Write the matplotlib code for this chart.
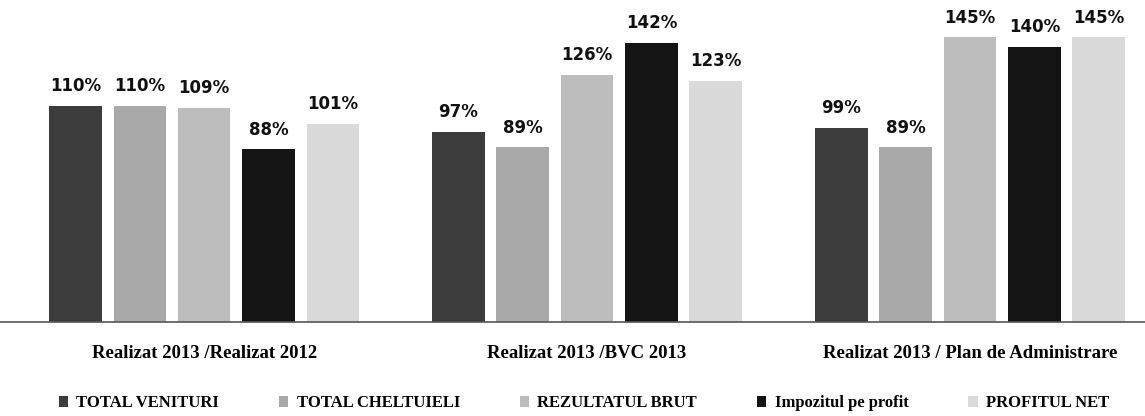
import matplotlib
matplotlib.use("Agg")
import matplotlib.pyplot as plt
import numpy as np

categories = ["Realizat 2013 /Realizat 2012", "Realizat 2013 /BVC 2013",
              "Realizat 2013 / Plan de Administrare"]
series = ["TOTAL VENITURI", "TOTAL CHELTUIELI", "REZULTATUL BRUT",
          "Impozitul pe profit", "PROFITUL NET"]
values = {
    "TOTAL VENITURI": [110, 97, 99],
    "TOTAL CHELTUIELI": [110, 89, 89],
    "REZULTATUL BRUT": [109, 126, 145],
    "Impozitul pe profit": [88, 142, 140],
    "PROFITUL NET": [101, 123, 145],
}
colors = ["#3c3c3c", "#a9a9a9", "#bdbdbd", "#141414", "#dadada"]

fig = plt.figure(figsize=(11.45, 4.16), dpi=100)
ax = fig.add_axes([0.0, 0.225, 1.0, 0.775])

x = np.arange(len(categories))
step = 0.168
width = 0.137
for i, name in enumerate(series):
    pos = x + (i - 2) * step
    bars = ax.bar(pos, values[name], width, color=colors[i], label=name)
    for b, v in zip(bars, values[name]):
        ax.text(b.get_x() + b.get_width() / 2, v + 5.5, f"{v}%", ha="center", va="bottom",
                fontsize=12, fontweight="bold", family="DejaVu Sans", color="#111111")

ax.set_xlim(-0.533, 2.457)
ax.set_ylim(0, 164)
ax.set_yticks([])
ax.set_xticks(x)
ax.set_xticklabels(categories, fontsize=13.5, fontweight="bold", family="Liberation Serif")
ax.tick_params(axis="x", length=0, pad=16)
for s in ["top", "right", "left"]:
    ax.spines[s].set_visible(False)
ax.spines["bottom"].set_color("#555555")
ax.spines["bottom"].set_linewidth(1.2)

leg = fig.legend(loc="lower center", ncol=5, frameon=False, bbox_to_anchor=(0.51, -0.025),
                 handlelength=0.55, handleheight=0.55, handletextpad=0.5, columnspacing=3.6,
                 prop={"family": "Liberation Serif", "weight": "bold", "size": 12})

fig.savefig("out.png", dpi=100)
